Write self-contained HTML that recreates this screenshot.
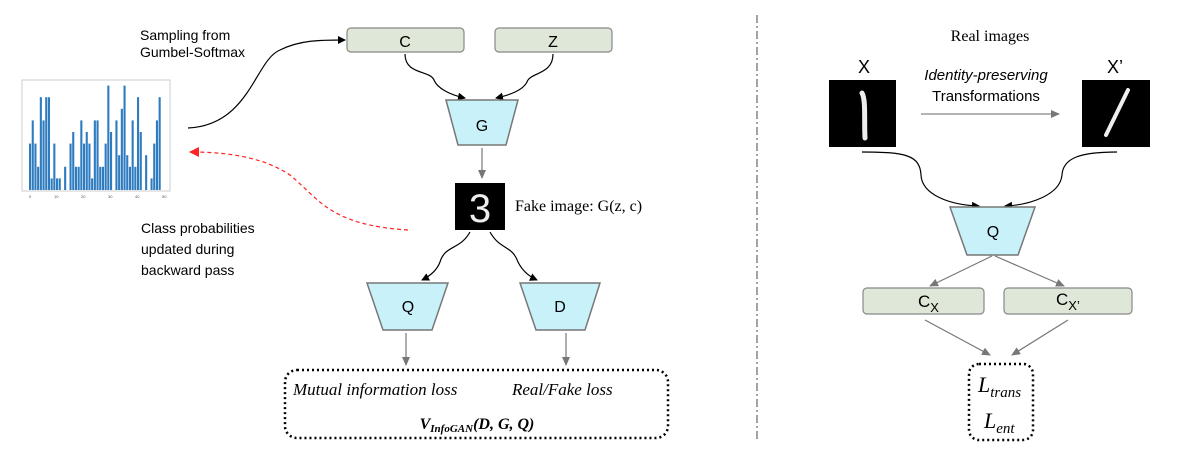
<!DOCTYPE html>
<html><head><meta charset="utf-8"><style>
body{margin:0;background:#fff;width:1178px;height:454px;overflow:hidden}
svg{display:block}
.s{font-family:"Liberation Sans",sans-serif}
.r{font-family:"Liberation Serif",serif}
</style></head><body>
<svg id="svg" width="1178" height="454" viewBox="0 0 1178 454" xmlns="http://www.w3.org/2000/svg">
<defs>
<marker id="ab" markerWidth="8" markerHeight="8" refX="7" refY="4" orient="auto" markerUnits="userSpaceOnUse"><path d="M0,0 L8,4 L0,8 z" fill="#000"/></marker>
<marker id="ag" markerWidth="9" markerHeight="8" refX="8" refY="4" orient="auto" markerUnits="userSpaceOnUse"><path d="M0,0 L9,4 L0,8 z" fill="#777"/></marker>
<marker id="ar" markerWidth="10" markerHeight="10" refX="9" refY="5" orient="auto" markerUnits="userSpaceOnUse"><path d="M0,0 L10,5 L0,10 z" fill="#f22"/></marker>
</defs>
<!-- chart -->
<rect x="22" y="80" width="148" height="111" fill="none" stroke="#ccc" stroke-width="1"/>
<g id="bars" fill="#2e7bbf"></g>
<g font-family="Liberation Sans" font-size="4" fill="#555">
<text x="29" y="198">0</text><text x="54" y="198">10</text><text x="81" y="198">20</text><text x="108" y="198">30</text><text x="135" y="198">40</text><text x="162" y="198">50</text>
</g>
<!-- left texts -->
<text class="s" x="140" y="40" font-size="14">Sampling from</text>
<text class="s" x="140" y="57" font-size="14">Gumbel-Softmax</text>
<text class="s" x="141" y="233" font-size="14">Class probabilities</text>
<text class="s" x="141" y="254" font-size="14">updated during</text>
<text class="s" x="141" y="275" font-size="14">backward pass</text>
<path d="M188,128 C250,125 255,60 280,50 C300,40 320,40 345,40" fill="none" stroke="#000" stroke-width="1.2" marker-end="url(#ab)"/>
<path d="M408,230 C330,225 320,200 290,175 C260,155 220,152 190,152" fill="none" stroke="#f22" stroke-width="1.2" stroke-dasharray="4,3" marker-end="url(#ar)"/>
<!-- boxes -->
<rect x="347" y="28" width="117" height="24" rx="4" fill="#dfe8d8" stroke="#888" stroke-width="1.2"/>
<text class="s" x="405" y="47" font-size="16" text-anchor="middle">C</text>
<rect x="495" y="28" width="117" height="24" rx="4" fill="#dfe8d8" stroke="#888" stroke-width="1.2"/>
<text class="s" x="553" y="47" font-size="16" text-anchor="middle">Z</text>
<path d="M405,54 C405,75 430,70 434,80 C437,88 450,95 465,98" fill="none" stroke="#000" stroke-width="1.2" marker-end="url(#ab)"/>
<path d="M553,54 C553,75 530,72 527,82 C523,90 510,95 496,98" fill="none" stroke="#000" stroke-width="1.2" marker-end="url(#ab)"/>
<polygon points="446,100 518,100 506,145 458,145" fill="#c9f1fa" stroke="#777" stroke-width="1.5"/>
<text class="s" x="482" y="131" font-size="16" text-anchor="middle">G</text>
<line x1="482" y1="148" x2="482" y2="178" stroke="#777" stroke-width="1.2" marker-end="url(#ag)"/>
<rect x="455" y="183" width="50" height="47" fill="#000"/>
<text class="s" x="480" y="222" font-size="40" fill="#eee" text-anchor="middle">3</text>
<text class="r" x="515" y="211" font-size="16">Fake image: G(z, c)</text>
<path d="M470,232 C460,250 445,245 440,262 C437,270 430,276 422,280" fill="none" stroke="#000" stroke-width="1.2" marker-end="url(#ab)"/>
<path d="M490,232 C500,250 512,245 518,262 C522,270 528,276 537,280" fill="none" stroke="#000" stroke-width="1.2" marker-end="url(#ab)"/>
<polygon points="367,283 448,283 432,330 383,330" fill="#c9f1fa" stroke="#777" stroke-width="1.5"/>
<text class="s" x="408" y="312" font-size="16" text-anchor="middle">Q</text>
<polygon points="520,283 600,283 585,330 536,330" fill="#c9f1fa" stroke="#777" stroke-width="1.5"/>
<text class="s" x="560" y="312" font-size="16" text-anchor="middle">D</text>
<line x1="406" y1="333" x2="406" y2="365" stroke="#777" stroke-width="1.2" marker-end="url(#ag)"/>
<line x1="566" y1="333" x2="566" y2="365" stroke="#777" stroke-width="1.2" marker-end="url(#ag)"/>
<rect x="285" y="370" width="383" height="68" rx="12" fill="none" stroke="#000" stroke-width="2.5" stroke-dasharray="2,3"/>
<text class="r" x="293" y="395" font-size="17" font-style="italic">Mutual information loss</text>
<text class="r" x="512" y="395" font-size="17" font-style="italic">Real/Fake loss</text>
<text class="r" x="477" y="429" font-size="16" font-style="italic" font-weight="bold" text-anchor="middle">V<tspan font-size="11" dy="3">InfoGAN</tspan><tspan dy="-3">(D, G, Q)</tspan></text>
<!-- divider -->
<line x1="757" y1="15" x2="757" y2="440" stroke="#666" stroke-width="1.2" stroke-dasharray="8,3,2,3"/>
<!-- right -->
<text class="r" x="990" y="41" font-size="16" text-anchor="middle">Real images</text>
<text class="s" x="864" y="73" font-size="18" text-anchor="middle">X</text>
<text class="s" x="1115" y="73" font-size="18" text-anchor="middle">X’</text>
<rect x="829" y="80" width="67" height="67" fill="#000"/>
<path d="M862,93 C866,100 864,120 865,138" stroke="#eee" stroke-width="5" stroke-linecap="round" fill="none"/>
<rect x="1082" y="80" width="68" height="67" fill="#000"/>
<path d="M1128,90 L1106,135" stroke="#eee" stroke-width="4" stroke-linecap="round" fill="none"/>
<text class="s" x="986" y="80" font-size="15" font-style="italic" text-anchor="middle">Identity-preserving</text>
<text class="s" x="986" y="101" font-size="15" text-anchor="middle">Transformations</text>
<line x1="921" y1="114" x2="1059" y2="114" stroke="#888" stroke-width="1.2" marker-end="url(#ag)"/>
<path d="M862,152 C905,152 920,155 921,175 C922,195 950,205 979,206" fill="none" stroke="#000" stroke-width="1.2" marker-end="url(#ab)"/>
<path d="M1117,152 C1080,152 1063,158 1062,175 C1060,195 1030,205 1005,206" fill="none" stroke="#000" stroke-width="1.2" marker-end="url(#ab)"/>
<polygon points="950,207 1035,207 1018,255 967,255" fill="#c9f1fa" stroke="#777" stroke-width="1.5"/>
<text class="s" x="993" y="237" font-size="16" text-anchor="middle">Q</text>
<line x1="992" y1="256" x2="930" y2="286" stroke="#777" stroke-width="1.2" marker-end="url(#ag)"/>
<line x1="995" y1="256" x2="1064" y2="286" stroke="#777" stroke-width="1.2" marker-end="url(#ag)"/>
<rect x="863" y="288" width="121" height="26" rx="4" fill="#dfe8d8" stroke="#888" stroke-width="1.2"/>
<text class="s" x="918" y="307" font-size="17">C<tspan font-size="13" dy="5">X</tspan></text>
<rect x="1004" y="288" width="128" height="26" rx="4" fill="#dfe8d8" stroke="#888" stroke-width="1.2"/>
<text class="s" x="1056" y="305" font-size="17">C<tspan font-size="13" dy="5">X’</tspan></text>
<line x1="925" y1="320" x2="990" y2="355" stroke="#777" stroke-width="1.2" marker-end="url(#ag)"/>
<line x1="1068" y1="320" x2="1012" y2="355" stroke="#777" stroke-width="1.2" marker-end="url(#ag)"/>
<rect x="969" y="364" width="64" height="76" rx="10" fill="none" stroke="#000" stroke-width="2.5" stroke-dasharray="2,3"/>
<text class="r" x="978" y="392" font-size="22" font-style="italic">L<tspan font-size="15" dy="5">trans</tspan></text>
<text class="r" x="984" y="428" font-size="22" font-style="italic">L<tspan font-size="15" dy="5">ent</tspan></text>
</svg>
<script>
var v=[4,6,4,2,8,6,8,8,1,4,1,1,0,2,0,4,5,2,2,6,4,5,4,1,6,6,2,2,4,9,5,0,6,3,7,9,3,2,6,2,8,5,0,3,0,1,4,6,8,0];
var g=document.getElementById('bars'),h='';
for(var i=0;i<v.length;i++){if(!v[i])continue;var x=30+i*2.7-1,hh=v[i]*11.6;h+='<rect x="'+x.toFixed(1)+'" y="'+(190-hh).toFixed(1)+'" width="2.1" height="'+hh.toFixed(1)+'"/>';}
g.innerHTML=h;
</script>
</body></html>
